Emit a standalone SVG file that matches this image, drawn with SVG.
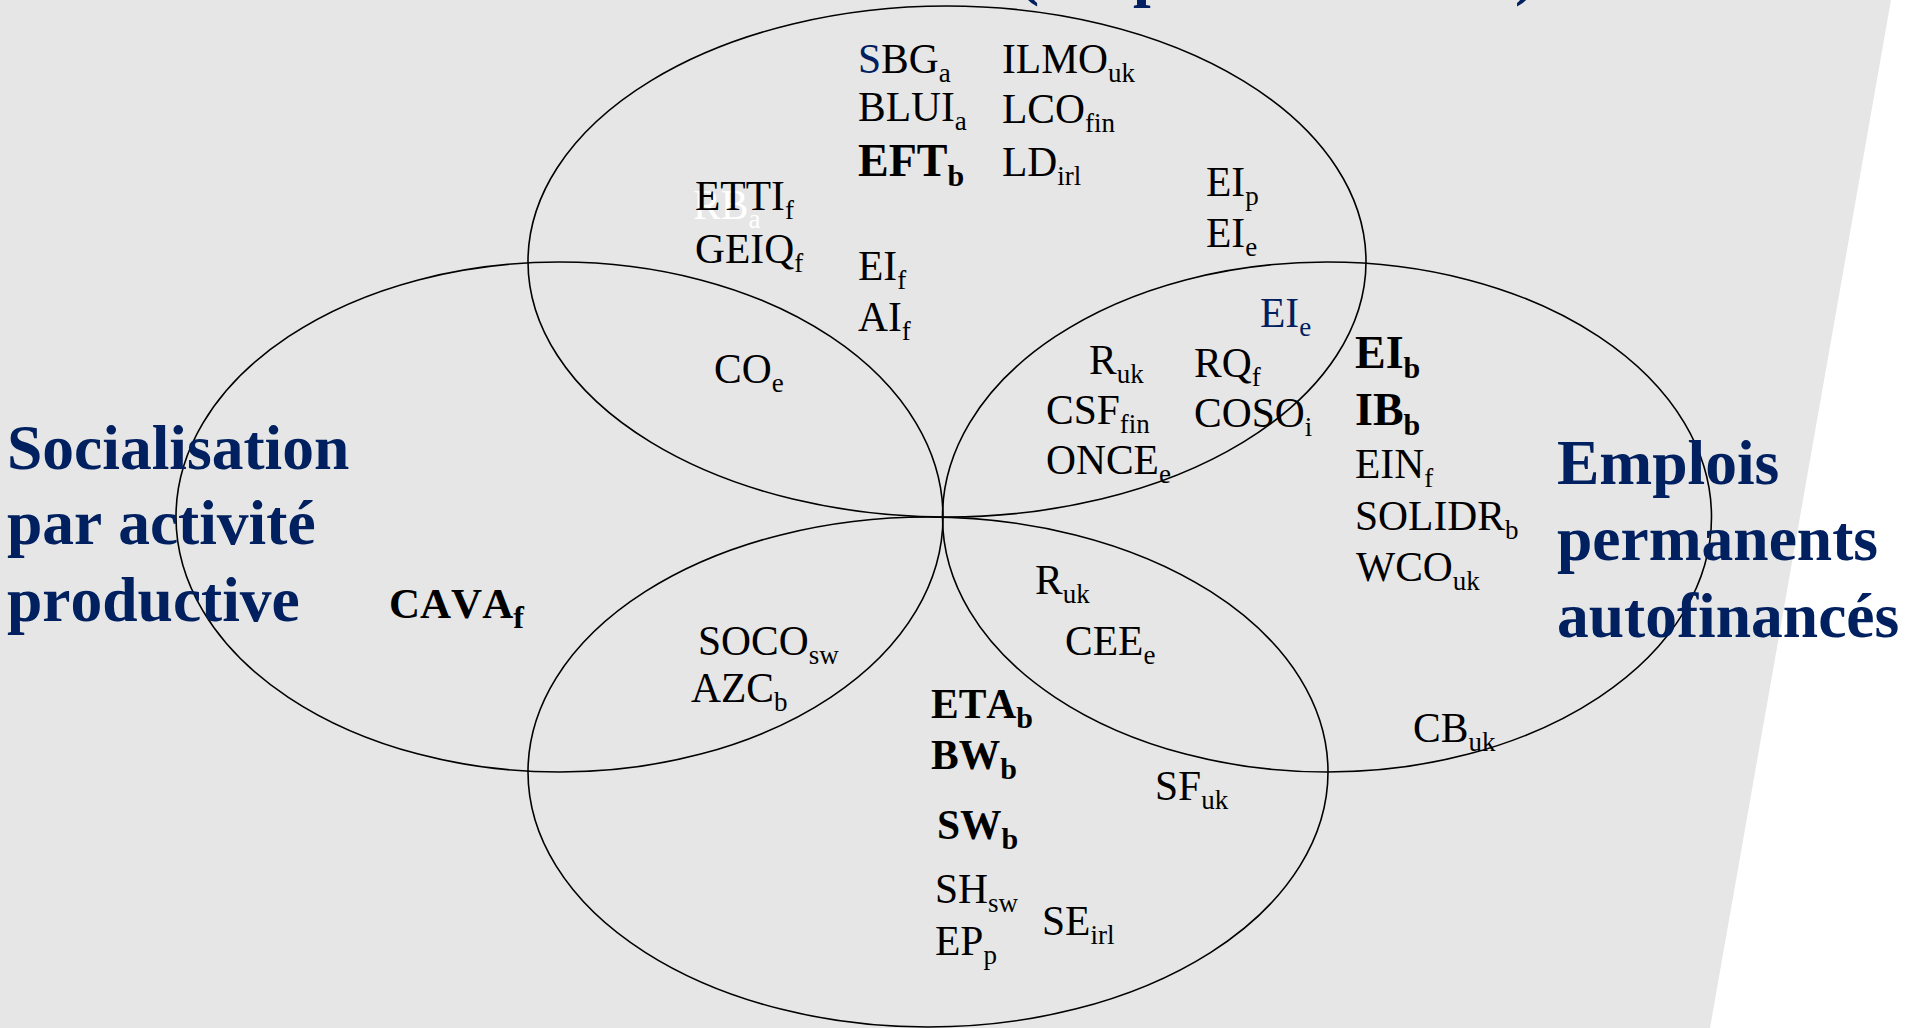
<svg xmlns="http://www.w3.org/2000/svg" width="1907" height="1028" viewBox="0 0 1907 1028">
<style>
text{font-kerning:none}
.set{fill:none;stroke:#000;stroke-width:1.6}
.t{font-family:"Liberation Serif","Times New Roman",serif;font-size:41.5px;fill:#000}
.b{font-weight:bold}
.big{font-size:46px}
.s{font-size:27px}
.sb{font-size:30px}
.w{fill:#fff}
.navy{fill:#002060}
.title{font-family:"Liberation Serif","Times New Roman",serif;font-size:63.5px;font-weight:bold;fill:#002060}
</style>
<rect x="0" y="0" width="1907" height="1028" fill="#ffffff"/>
<polygon points="0,0 1891,0 1710,1028 0,1028" fill="#e6e6e6"/>

<g id="title-top-fragments">
<text class="title" x="1018" y="-7">(</text>
<text class="title" x="1133" y="-6">p</text>
<text class="title" x="1515" y="-7">)</text>
</g>

<g id="sets">
<ellipse id="set-top" class="set" cx="947" cy="261.5" rx="419" ry="255.5"/>
<ellipse id="set-left" class="set" cx="559.5" cy="517" rx="383.5" ry="255"/>
<ellipse id="set-right" class="set" cx="1327" cy="517" rx="384.5" ry="255"/>
<ellipse id="set-bottom" class="set" cx="928" cy="772" rx="400" ry="255"/>
</g>

<g id="title-left">
<text class="title" x="7" y="469">Socialisation</text>
<text class="title" x="7" y="544">par activité</text>
<text class="title" x="7" y="621">productive</text>
</g>
<g id="title-right">
<text class="title" x="1557" y="484">Emplois</text>
<text class="title" x="1557" y="560">permanents</text>
<text class="title" x="1557" y="637">autofinancés</text>
</g>

<g id="labels-top">
<text class="t" x="858" y="73"><tspan class="navy">S</tspan>BG<tspan class="s" dy="9">a</tspan></text>
<text class="t" x="1002" y="73">ILMO<tspan class="s" dy="9">uk</tspan></text>
<text class="t" x="858" y="121">BLUI<tspan class="s" dy="9">a</tspan></text>
<text class="t" x="1002" y="123">LCO<tspan class="s" dy="9">fin</tspan></text>
<text class="t b big" x="858" y="176">EFT<tspan class="sb" dy="10">b</tspan></text>
<text class="t" x="1002" y="176">LD<tspan class="s" dy="9">irl</tspan></text>
<text class="t w" x="693" y="219">RB<tspan class="s" dy="9">a</tspan></text>
<text class="t" x="695" y="210">ETTI<tspan class="s" dy="9">f</tspan></text>
<text class="t" x="695" y="263">GEIQ<tspan class="s" dy="9">f</tspan></text>
<text class="t" x="858" y="280">EI<tspan class="s" dy="9">f</tspan></text>
<text class="t" x="858" y="331">AI<tspan class="s" dy="9">f</tspan></text>
<text class="t" x="1206" y="196">EI<tspan class="s" dy="9">p</tspan></text>
<text class="t" x="1206" y="247">EI<tspan class="s" dy="9">e</tspan></text>
</g>

<g id="labels-top-left">
<text class="t" x="714" y="383">CO<tspan class="s" dy="9">e</tspan></text>
</g>

<g id="labels-top-right">
<text class="t navy" x="1260" y="327">EI<tspan class="s" dy="9">e</tspan></text>
<text class="t" x="1089" y="374">R<tspan class="s" dy="9">uk</tspan></text>
<text class="t" x="1194" y="377">RQ<tspan class="s" dy="9">f</tspan></text>
<text class="t" x="1046" y="424">CSF<tspan class="s" dy="9">fin</tspan></text>
<text class="t" x="1194" y="427">COSO<tspan class="s" dy="9">i</tspan></text>
<text class="t" x="1046" y="474">ONCE<tspan class="s" dy="9">e</tspan></text>
</g>

<g id="labels-right">
<text class="t b big" x="1355" y="368">EI<tspan class="sb" dy="10">b</tspan></text>
<text class="t b big" x="1355" y="425">IB<tspan class="sb" dy="10">b</tspan></text>
<text class="t" x="1355" y="478">EIN<tspan class="s" dy="9">f</tspan></text>
<text class="t" x="1355" y="530">SOLIDR<tspan class="s" dy="9">b</tspan></text>
<text class="t" x="1356" y="581">WCO<tspan class="s" dy="9">uk</tspan></text>
<text class="t" x="1413" y="742">CB<tspan class="s" dy="9">uk</tspan></text>
</g>

<g id="labels-left">
<text class="t b" x="389" y="618" style="font-size:43px">CAVA<tspan style="font-size:32px" dy="10">f</tspan></text>
</g>

<g id="labels-bottom-left">
<text class="t" x="698" y="655">SOCO<tspan class="s" dy="9">sw</tspan></text>
<text class="t" x="691" y="702">AZC<tspan class="s" dy="9">b</tspan></text>
</g>

<g id="labels-bottom-right">
<text class="t" x="1035" y="594">R<tspan class="s" dy="9">uk</tspan></text>
<text class="t" x="1065" y="655">CEE<tspan class="s" dy="9">e</tspan></text>
</g>

<g id="labels-bottom">
<text class="t b" x="931" y="718">ETA<tspan class="sb" dy="10">b</tspan></text>
<text class="t b" x="931" y="769">BW<tspan class="sb" dy="10">b</tspan></text>
<text class="t b" x="937" y="839">SW<tspan class="sb" dy="10">b</tspan></text>
<text class="t" x="935" y="903">SH<tspan class="s" dy="9">sw</tspan></text>
<text class="t" x="935" y="955">EP<tspan class="s" dy="9">p</tspan></text>
<text class="t" x="1042" y="935">SE<tspan class="s" dy="9">irl</tspan></text>
<text class="t" x="1155" y="800">SF<tspan class="s" dy="9">uk</tspan></text>
</g>
</svg>
